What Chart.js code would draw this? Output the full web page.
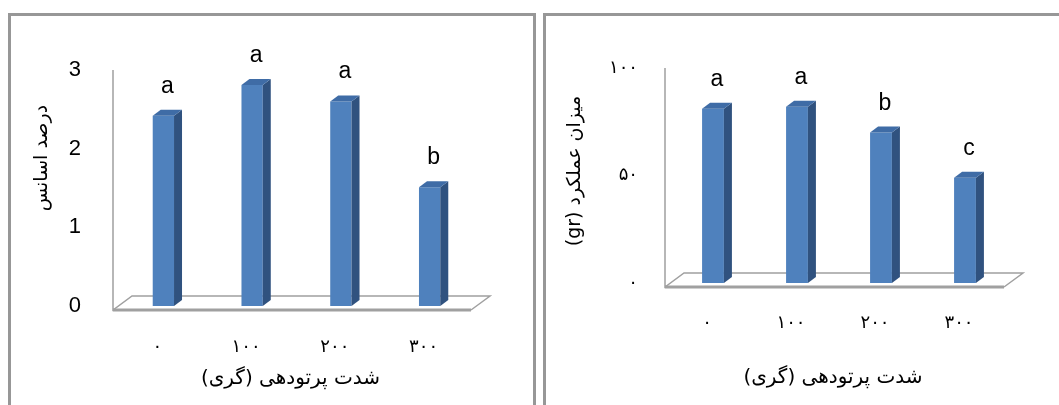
<!DOCTYPE html>
<html>
<head>
<meta charset="utf-8">
<script src="https://cdn.jsdelivr.net/npm/chart.js@4"></script>
<style>
body{margin:0;background:#fff;width:1059px;height:405px;overflow:hidden;position:relative}
.panel{position:absolute;top:13px;height:420px;border:3px solid #979797;box-sizing:border-box}
canvas{position:absolute;top:0}
</style>
</head>
<body>
<div class="panel" style="left:8px;width:528px"></div>
<div class="panel" style="left:543px;width:540px"></div>
<canvas id="left" dir="rtl" width="530" height="405" style="left:0"></canvas>
<canvas id="right" dir="rtl" width="529" height="405" style="left:530px"></canvas>
<script>
var doses = ['۰', '۱۰۰', '۲۰۰', '۳۰۰'];
var essence = [2.42, 2.81, 2.6, 1.51];
var essenceLetters = ['a', 'a', 'a', 'b'];
var essenceTicks = {0: '0', 1: '1', 2: '2', 3: '3'};
var yieldGr = [81, 82, 70, 49];
var yieldLetters = ['a', 'a', 'b', 'c'];
var yieldTicks = {0: '۰', 50: '۵۰', 100: '۱۰۰'};
var xTitle = 'شدت پرتودهی (گری)';
var essenceTitle = 'درصد اسانس';
var yieldTitle = 'میزان عملکرد (gr)';

var front = '#4f81bd', side = '#30527f', topFace = '#3f6ca6';
var shiftX = 6, depthX = 8, depthY = 6;

// floor, axis line, bar sides and letters drawn around the library's bars
function threeD(letters, title, titleX, titleY) {
  return {
    id: 'threeD',
    beforeDatasetsDraw: function (chart) {
      var ctx = chart.ctx, a = chart.chartArea;
      ctx.save();
      ctx.strokeStyle = '#a0a0a0';
      ctx.lineWidth = 1.5;
      ctx.beginPath();
      ctx.moveTo(a.left, a.top);
      ctx.lineTo(a.left, a.bottom + 4);
      ctx.lineTo(a.left + 19, a.bottom - 10);
      ctx.lineTo(a.right + 22, a.bottom - 10);
      ctx.lineTo(a.right + 3, a.bottom + 4);
      ctx.stroke();
      ctx.lineWidth = 3;
      ctx.beginPath();
      ctx.moveTo(a.left, a.bottom + 4);
      ctx.lineTo(a.right + 3, a.bottom + 4);
      ctx.stroke();
      ctx.restore();
      ctx.save();
      ctx.translate(shiftX, 0);
    },
    afterDatasetsDraw: function (chart) {
      var ctx = chart.ctx;
      var bars = chart.getDatasetMeta(0).data;
      bars.forEach(function (bar) {
        var p = bar.getProps(['x', 'y', 'base', 'width'], true);
        var x1 = p.x - p.width / 2, x2 = p.x + p.width / 2;
        ctx.fillStyle = side;
        ctx.beginPath();
        ctx.moveTo(x2, p.y);
        ctx.lineTo(x2 + depthX, p.y - depthY);
        ctx.lineTo(x2 + depthX, p.base - depthY);
        ctx.lineTo(x2, p.base);
        ctx.closePath();
        ctx.fill();
        ctx.fillStyle = topFace;
        ctx.beginPath();
        ctx.moveTo(x1, p.y);
        ctx.lineTo(x1 + depthX, p.y - depthY);
        ctx.lineTo(x2 + depthX, p.y - depthY);
        ctx.lineTo(x2, p.y);
        ctx.closePath();
        ctx.fill();
      });
      ctx.restore();
      ctx.save();
      ctx.fillStyle = '#000';
      ctx.font = '23px "Liberation Sans", Arial, sans-serif';
      ctx.textAlign = 'center';
      ctx.textBaseline = 'alphabetic';
      bars.forEach(function (bar, i) {
        ctx.fillText(letters[i], bar.x + shiftX + depthX / 2, bar.y - 23);
      });
      ctx.restore();
    },
    afterDraw: function (chart) {
      var ctx = chart.ctx;
      ctx.save();
      ctx.direction = 'rtl';
      ctx.fillStyle = '#000';
      ctx.font = '19px "DejaVu Sans", sans-serif';
      ctx.textAlign = 'center';
      ctx.textBaseline = 'middle';
      ctx.translate(titleX, titleY);
      ctx.rotate(-Math.PI / 2);
      ctx.fillText(title, 0, 0);
      ctx.restore();
    }
  };
}

function makeChart(id, values, letters, ticks, max, step, yTitle, o) {
  return new Chart(id, {
    type: 'bar',
    data: {
      labels: doses,
      datasets: [{data: values, backgroundColor: front, categoryPercentage: 1, barPercentage: o.barPct}]
    },
    plugins: [threeD(letters, yTitle, o.titleX, o.titleY)],
    options: {
      responsive: false,
      animation: false,
      layout: {padding: {left: 10, right: o.padRight, top: o.top, bottom: 0}},
      plugins: {legend: {display: false}, tooltip: {enabled: false}},
      scales: {
        x: {
          grid: {display: false, drawTicks: false},
          border: {display: false},
          ticks: {color: '#000', padding: o.xPad, maxRotation: 0, font: {family: 'DejaVu Sans', size: 18}},
          title: {display: true, text: xTitle, color: '#000', padding: {top: 0, bottom: o.titlePad},
            font: {family: 'DejaVu Sans', size: 20}},
          afterFit: function (s) { s.height = o.xHeight; }
        },
        y: {
          min: 0, max: max,
          grid: {display: false, drawTicks: false},
          border: {display: false},
          ticks: {stepSize: step, color: '#000', padding: o.yPad, font: o.yFont,
            callback: function (v) { return ticks[v]; }},
          afterFit: function (s) { s.width = o.yWidth; }
        }
      }
    }
  });
}

makeChart('left', essence, essenceLetters, essenceTicks, 3, 1, essenceTitle, {
  barPct: 0.24, padRight: 62, top: 70, xHeight: 99, xPad: 31, titlePad: 14,
  yWidth: 103, yPad: 32, yFont: {family: 'Liberation Sans', size: 22},
  titleX: 42, titleY: 158
});

makeChart('right', yieldGr, yieldLetters, yieldTicks, 100, 50, yieldTitle, {
  barPct: 0.26, padRight: 58, top: 68, xHeight: 122, xPad: 30, titlePad: 15,
  yWidth: 125, yPad: 27, yFont: {family: 'DejaVu Sans', size: 18},
  titleX: 45, titleY: 171
});
</script>
</body>
</html>
